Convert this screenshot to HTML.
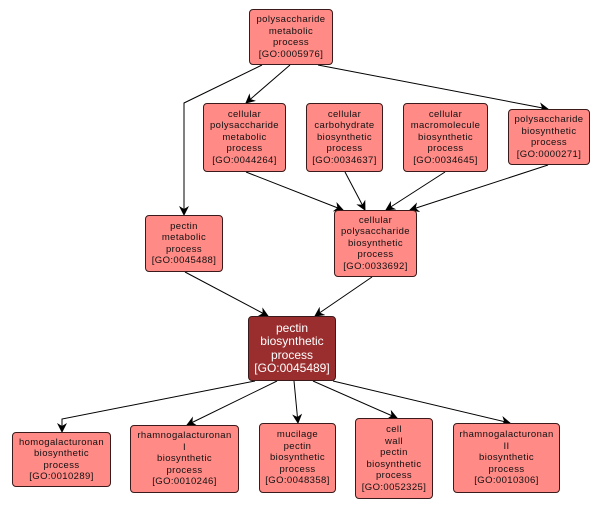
<!DOCTYPE html>
<html><head><meta charset="utf-8"><style>
body{margin:0;width:603px;height:509px;background:#fff;position:relative;overflow:hidden;font-family:"Liberation Sans",sans-serif}
.n{position:absolute;box-sizing:border-box;background:#ff8a86;border:1px solid #3a1a1a;border-radius:4px;display:flex;align-items:center;justify-content:center;text-align:center;font-size:9.5px;line-height:11.5px;letter-spacing:0.4px;color:#111}
.c{background:#9a2e2e;color:#fff;font-size:12px;line-height:13.5px;letter-spacing:0}
svg{position:absolute;left:0;top:0}
</style></head><body>
<svg width="603" height="509">
<defs><marker id="a" markerWidth="10" markerHeight="10" refX="9" refY="5" orient="auto" markerUnits="userSpaceOnUse"><path d="M0,0 L10,5 L0,10 L3,5 Z" fill="#000"/></marker></defs>
<g stroke="#000" stroke-width="1" fill="none" marker-end="url(#a)">
<polyline points="262,65 184,103 184,215"/>
<line x1="290" y1="65" x2="246" y2="103"/>
<line x1="318" y1="65" x2="548" y2="109"/>
<line x1="246" y1="172" x2="343" y2="210"/>
<line x1="345" y1="172" x2="365" y2="210"/>
<line x1="445" y1="172" x2="386" y2="210"/>
<line x1="548" y1="165" x2="410" y2="210"/>
<line x1="185" y1="272" x2="268" y2="316"/>
<line x1="372" y1="277" x2="315" y2="316"/>
<polyline points="255,381 62,419 62,432"/>
<line x1="277" y1="381" x2="187" y2="425"/>
<line x1="294" y1="381" x2="298" y2="423"/>
<line x1="313" y1="381" x2="397" y2="418"/>
<line x1="333" y1="381" x2="510" y2="423"/>
</g></svg>
<div class="n" style="left:249px;top:9px;width:84px;height:56px">polysaccharide<br>metabolic<br>process<br>[GO:0005976]</div>
<div class="n" style="left:203px;top:103px;width:83px;height:69px">cellular<br>polysaccharide<br>metabolic<br>process<br>[GO:0044264]</div>
<div class="n" style="left:306px;top:103px;width:77px;height:69px">cellular<br>carbohydrate<br>biosynthetic<br>process<br>[GO:0034637]</div>
<div class="n" style="left:403px;top:103px;width:85px;height:69px">cellular<br>macromolecule<br>biosynthetic<br>process<br>[GO:0034645]</div>
<div class="n" style="left:508px;top:109px;width:82px;height:56px">polysaccharide<br>biosynthetic<br>process<br>[GO:0000271]</div>
<div class="n" style="left:145px;top:215px;width:78px;height:57px">pectin<br>metabolic<br>process<br>[GO:0045488]</div>
<div class="n" style="left:334px;top:210px;width:83px;height:67px">cellular<br>polysaccharide<br>biosynthetic<br>process<br>[GO:0033692]</div>
<div class="n c" style="left:248px;top:316px;width:88px;height:65px">pectin<br>biosynthetic<br>process<br>[GO:0045489]</div>
<div class="n" style="left:12px;top:432px;width:99px;height:55px">homogalacturonan<br>biosynthetic<br>process<br>[GO:0010289]</div>
<div class="n" style="left:130px;top:425px;width:109px;height:68px">rhamnogalacturonan<br>I<br>biosynthetic<br>process<br>[GO:0010246]</div>
<div class="n" style="left:259px;top:423px;width:77px;height:70px">mucilage<br>pectin<br>biosynthetic<br>process<br>[GO:0048358]</div>
<div class="n" style="left:355px;top:418px;width:78px;height:81px">cell<br>wall<br>pectin<br>biosynthetic<br>process<br>[GO:0052325]</div>
<div class="n" style="left:453px;top:423px;width:107px;height:70px">rhamnogalacturonan<br>II<br>biosynthetic<br>process<br>[GO:0010306]</div>
</body></html>
